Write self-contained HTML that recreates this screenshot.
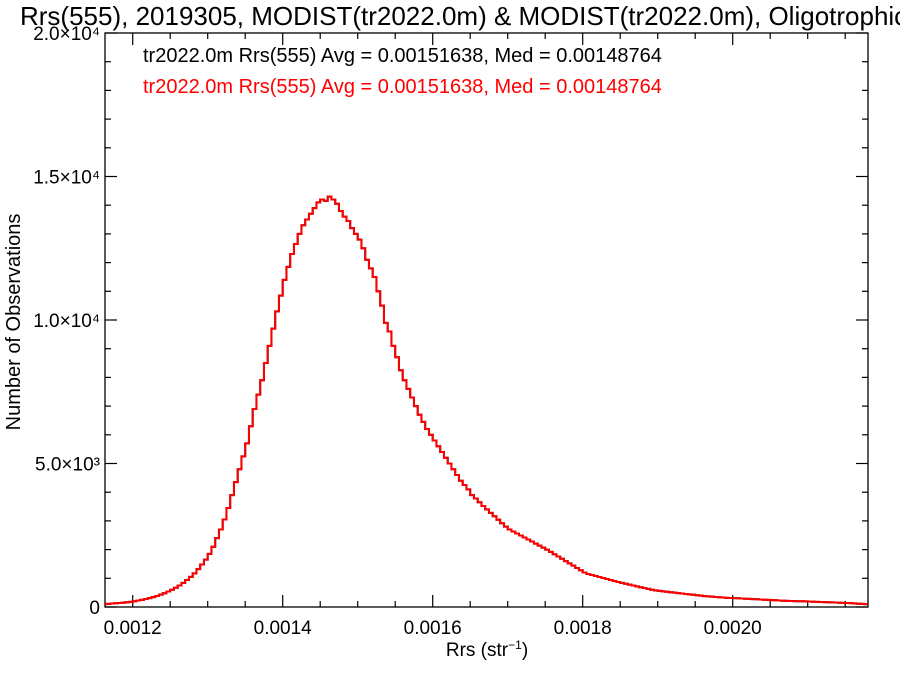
<!DOCTYPE html>
<html><head><meta charset="utf-8"><style>
body{margin:0;background:#fff}
svg{display:block;font-family:"Liberation Sans",Arial,sans-serif}
</style></head><body>
<svg id="chart" width="900" height="675">
<text x="20" y="25" font-size="26">Rrs(555), 2019305, MODIST(tr2022.0m) &amp; MODIST(tr2022.0m), Oligotrophic</text>
<text x="143" y="62" font-size="20" fill="#000">tr2022.0m Rrs(555) Avg = 0.00151638, Med = 0.00148764</text>
<text x="143" y="93" font-size="20" fill="#ff0000">tr2022.0m Rrs(555) Avg = 0.00151638, Med = 0.00148764</text>
<text transform="translate(20,322) rotate(-90)" text-anchor="middle" font-size="20">Number of Observations</text>
<text x="487" y="656" text-anchor="middle" font-size="19">Rrs (str<tspan dy="-7" font-size="12">−1</tspan><tspan dy="7">)</tspan></text>
<g id="axes"></g>
<g id="series"></g>
</svg>
<script>
const binStart = 0.00116;
const binWidth = 0.000005;
const countsBlack = [100,110,120,130,140,150,165,180,200,
225,250,280,310,345,385,430,480,540,600,
670,750,840,940,1050,1170,1320,1480,1650,1850,
2100,2400,2700,3050,3450,3900,4350,4800,5250,5700,
6300,6900,7400,7900,8500,9100,9700,10300,10850,11400,
11850,12300,12650,13000,13300,13500,13700,13900,14100,14200,
14150,14300,
14200,14050,13800,
13600,13450,13200,13000,12800,
12500,12100,11800,11500,11000,
10500,9900,
9600,9100,8700,8250,
7900,7600,7300,7000,6700,6450,6200,6000,5800,
5600,5400,5200,5000,4800,4600,4400,4250,4100,3900,
3780,3650,3520,3400,3280,3160,3040,2920,2800,2700,
2630,2560,2490,2420,2350,2280,2210,2140,2070,2000,
1920,1840,1760,1680,1600,1520,1440,1360,1280,1200,
1150,1115,1080,1045,1010,975,940,905,870,840,810,780,750,720,690,660,630,600,580,560,
545,530,515,500,485,470,455,440,425,410,395,380,370,360,350,340,330,320,315,310,
303,296,289,282,275,268,261,254,247,240,233,226,219,212,207,204,202,200,
195,190,185,180,175,170,165,160,155,150,145,140,135,125,115,110,100];
const countsRed = countsBlack.slice();
const xTickValues = [0.0012,0.0014,0.0016,0.0018,0.0020];
const xTickLabels = ["0.0012","0.0014","0.0016","0.0018","0.0020"];
const yTickValues = [0,5000,10000,15000,20000];
const yTickLabels = ["0","5.0×10³","1.0×10⁴","1.5×10⁴","2.0×10⁴"];

const L=105,R=868,T=33,B=607;
const xMin=0.0012-(132.7-L)/750000, xMax=0.0012+(R-132.7)/750000;
const yMin=0,yMax=20000;
const X=v=>L+(v-xMin)/(xMax-xMin)*(R-L);
const Y=v=>B-(v-yMin)/(yMax-yMin)*(B-T);
const NS="http://www.w3.org/2000/svg";
const axes=document.getElementById('axes');
function mk(tag,attrs,parent){const e=document.createElementNS(NS,tag);for(const k in attrs)e.setAttribute(k,attrs[k]);parent.appendChild(e);return e;}

const frame=mk('rect',{x:L,y:T,width:R-L,height:B-T,fill:'none',stroke:'#000','stroke-width':1.3},axes);



for(let k=0;;k++){const v=0.00115+k*0.00005; if(v>xMax)break; if(v<xMin)continue;
 const x=X(v); const major=Math.abs((v*1e4/2)-Math.round(v*1e4/2))<1e-6; const len=major?12:6;
 const t1=mk('line',{x1:x,y1:B,x2:x,y2:B-len,stroke:'#000','stroke-width':1.2},axes);
 
 
 const t2=mk('line',{x1:x,y1:T,x2:x,y2:T+len,stroke:'#000','stroke-width':1.2},axes);
 
 
}
xTickValues.forEach((v,i)=>{const t=mk('text',{x:X(v),y:B+27,'text-anchor':'middle','font-size':19},axes);t.textContent=xTickLabels[i];
 
 });
for(let v=0;v<=yMax;v+=1000){const y=Y(v);const len=(v%5000===0)?12:6;
 const t1=mk('line',{x1:L,y1:y,x2:L+len,y2:y,stroke:'#000','stroke-width':1.2},axes);
 
 
 const t2=mk('line',{x1:R,y1:y,x2:R-len,y2:y,stroke:'#000','stroke-width':1.2},axes);
 
 
}
yTickValues.forEach((v,i)=>{const t=mk('text',{x:L-5,y:Y(v)+7,'text-anchor':'end','font-size':19},axes);t.textContent=yTickLabels[i];
 
 });

function stepPath(arr){let d='';arr.forEach((c,i)=>{const x0=X(binStart+i*binWidth),x1=X(binStart+(i+1)*binWidth),y=Y(c);
 const a=Math.max(L,Math.min(R,x0)),b=Math.max(L,Math.min(R,x1));
 d+=(i===0?'M':'L')+a.toFixed(2)+','+y.toFixed(2)+'L'+b.toFixed(2)+','+y.toFixed(2);});return d;}
const series=document.getElementById('series');
const pb=mk('path',{d:stepPath(countsBlack),fill:'none',stroke:'#000','stroke-width':2},series);


const pr=mk('path',{d:stepPath(countsRed),fill:'none',stroke:'#ff0000','stroke-width':2},series);


</script>
</body></html>
